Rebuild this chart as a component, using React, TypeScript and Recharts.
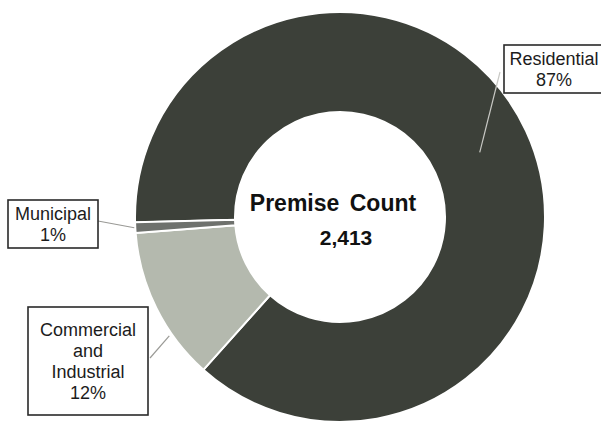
import { PieChart, Pie, Cell } from "recharts";

const categories = ["Residential", "Commercial and Industrial", "Municipal"];
const premiseCounts = [2100, 293, 20];
const percentLabels = ["87%", "12%", "1%"];
const totalLabel = "2,413";

const sliceColors = ["#3c4039", "#b4b9ae", "#6e716d"];

// label boxes are placed by hand, relative to the pie centre, like the
// dragged data labels of the original
const labelBoxes = [
    { dx: 164, dy: -172, w: 100, h: 48, lines: ["Residential"], anchorR: 154, anchorDa: 0, lineFrom: [160, -145] },
    { dx: -312, dy: 90, w: 120, h: 108, lines: ["Commercial", "and", "Industrial"], anchorR: 208, anchorDa: 8.5, lineFrom: [-190, 141] },
    { dx: -332, dy: -17, w: 90, h: 48, lines: ["Municipal"], anchorR: 206, anchorDa: 0, lineFrom: [-242, 4] },
];

const data = categories.map((name, i) => ({ name, value: premiseCounts[i] }));

const RAD = Math.PI / 180;

type LabelProps = {
    cx: number,
    cy: number,
    midAngle: number,
    index: number,
}

const renderLabel = (props: LabelProps) => {
    const { cx, cy, midAngle, index } = props;
    const box = labelBoxes[index];
    const lines = [...box.lines, percentLabels[index]];
    const x = cx + box.dx;
    const y = cy + box.dy;
    const a = midAngle + box.anchorDa;
    const ax = cx + box.anchorR * Math.cos(-a * RAD);
    const ay = cy + box.anchorR * Math.sin(-a * RAD);
    const lineH = 21;
    const firstY = y + box.h / 2 - ((lines.length - 1) * lineH) / 2;
    return (
        <g key={"lbl" + index}>
            <line
                x1={cx + box.lineFrom[0]}
                y1={cy + box.lineFrom[1]}
                x2={ax}
                y2={ay}
                stroke={index === 0 ? "#c8c8c4" : "#9a9a96"}
                strokeWidth={1.2}
            />
            <rect x={x} y={y} width={box.w} height={box.h} fill="#fff" stroke="#2a2a2a" strokeWidth={1.6} />
            {lines.map((t, i) => (
                <text
                    key={i}
                    x={x + box.w / 2}
                    y={firstY + i * lineH}
                    textAnchor="middle"
                    dominantBaseline="central"
                    fontFamily="'Liberation Sans', Arial, sans-serif"
                    fontSize={18}
                    fill="#1c1c1c"
                >
                    {t}
                </text>
            ))}
        </g>
    );
};

export default function App() {
    return (
        <div style={{ position: "absolute", left: 0, top: 0, width: 601, height: 422, background: "#fff" }}>
            <PieChart width={601} height={422} margin={{ top: 0, right: 0, bottom: 0, left: 0 }}>
                <Pie
                    data={data}
                    dataKey="value"
                    nameKey="name"
                    cx={340}
                    cy={217}
                    innerRadius={105}
                    outerRadius={205}
                    startAngle={181.5}
                    endAngle={-178.5}
                    stroke="#ffffff"
                    strokeWidth={2}
                    label={renderLabel}
                    labelLine={false}
                    isAnimationActive={false}
                >
                    {data.map((d, i) => (
                        <Cell key={d.name} fill={sliceColors[i]} />
                    ))}
                </Pie>
                <text
                    x={333}
                    y={203}
                    textAnchor="middle"
                    dominantBaseline="central"
                    fontFamily="'Liberation Sans', Arial, sans-serif"
                    fontWeight="bold"
                    fontSize={23}
                    wordSpacing={4}
                    fill="#111"
                >
                    Premise Count
                </text>
                <text
                    x={346}
                    y={237}
                    textAnchor="middle"
                    dominantBaseline="central"
                    fontFamily="'Liberation Sans', Arial, sans-serif"
                    fontWeight="bold"
                    fontSize={21}
                    fill="#111"
                >
                    {totalLabel}
                </text>
            </PieChart>
        </div>
    );
}
